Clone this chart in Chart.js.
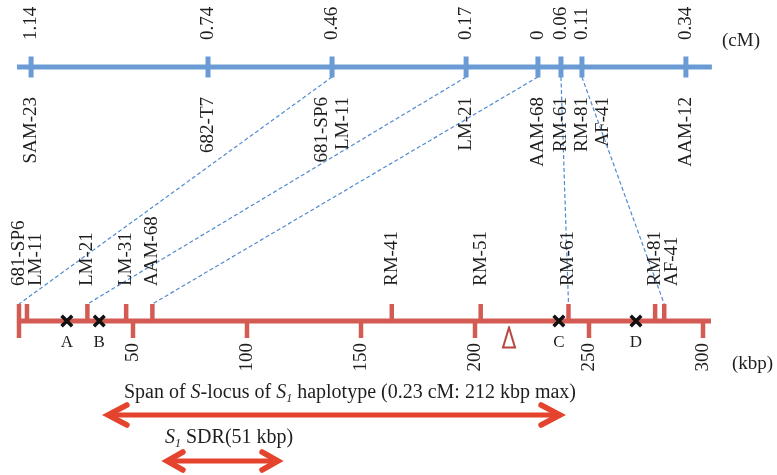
<!DOCTYPE html>
<html>
<head>
  <meta charset="utf-8">
  <title>S-locus genetic / physical map</title>
  <script src="https://cdn.jsdelivr.net/npm/chart.js"></script>
  <style>
    html, body { margin: 0; padding: 0; background: #fff; }
    canvas { display: block; }
  </style>
</head>
<body>
<canvas id="locusChart" width="777" height="475"></canvas>
<script>
  // genetic map (top row), distances in cM
  const cmValues = ['1.14', '0.74', '0.46', '0.17', '0', '0.06', '0.11', '0.34'];
  const cmMarkers = [['SAM-23'], ['682-T7'], ['681-SP6', 'LM-11'], ['LM-21'], ['AAM-68'], ['RM-61'], ['RM-81', 'AF-41'], ['AAM-12']];
  const cmDrawPos = [5.3, 82.9, 137.3, 196.1, 227.6, 237.7, 246.9, 292.5]; // where each marker sits along the drawn bar

  // physical map (bottom row), kbp
  const kbpMarkers = ['681-SP6', 'LM-11', 'LM-21', 'LM-31', 'AAM-68', 'RM-41', 'RM-51', 'RM-61', 'RM-81', 'AF-41'];
  const kbpPos = [0, 3.5, 30, 47, 58.5, 163.5, 202.5, 241, 279, 283];
  const kbpTicks = [0, 50, 100, 150, 200, 250, 300];
  const recombLabels = ['A', 'B', 'C', 'D'];
  const recombPos = [21, 35.2, 236.8, 270.6];
  const trianglePos = [214.9];

  // dashed links genetic marker -> physical marker
  const linkNames = ['681-SP6', 'LM-21', 'AAM-68', 'RM-61', 'AF-41'];

  // arrows under the map
  const spanKbp = [39, 237.3];
  const sdrKbp = [64.9, 113.6];

  // layout (rows in pixels of the 475 px tall canvas)
  const ROW = { cm: 67, kbp: 321, span: 415, sdr: 461 };
  const BLUE = '#6a9bd4';
  const RED = '#d35b53';
  const LINK = '#4f8bd0';
  const ARROW = '#e4432e';
  const INK = '#1e1e1e';
  const SERIF = '"Liberation Serif", "Times New Roman", serif';

  const topIndex = name => cmMarkers.findIndex(m => m.includes(name));

  // hollow triangle used as a point style
  const tri = document.createElement('canvas');
  tri.width = 16; tri.height = 24;
  const tc = tri.getContext('2d');
  tc.strokeStyle = '#b8443d';
  tc.lineWidth = 2;
  tc.beginPath(); tc.moveTo(8, 2); tc.lineTo(14, 22); tc.lineTo(2, 22); tc.closePath(); tc.stroke();

  const linkSets = linkNames.map(n => ({
    type: 'line',
    data: [{ x: cmDrawPos[topIndex(n)], y: ROW.cm + 10 }, { x: kbpPos[kbpMarkers.indexOf(n)], y: ROW.kbp - 17 }],
    borderColor: LINK, borderWidth: 1.2, borderDash: [4, 2.5], pointRadius: 0, order: 5
  }));

  const arrowSets = [spanKbp, sdrKbp].map((s, i) => ({
    type: 'line',
    data: [{ x: s[0], y: i ? ROW.sdr : ROW.span }, { x: s[1], y: i ? ROW.sdr : ROW.span }],
    borderColor: ARROW, borderWidth: 5, pointRadius: 0, order: 4
  }));

  // push labels apart so they don't overlap
  function spreadRight(xs, gap) {
    const out = xs.slice();
    for (let i = 1; i < out.length; i++) {
      if (out[i] < out[i - 1] + gap) out[i] = out[i - 1] + gap;
    }
    return out;
  }

  function vText(ctx, str, px, py, align) {
    ctx.save();
    ctx.translate(px, py);
    ctx.rotate(-Math.PI / 2);
    ctx.textAlign = align;
    ctx.textBaseline = 'middle';
    ctx.fillText(str, 0, 0);
    ctx.restore();
  }

  // runs of [text, italic, subscript]
  function richText(ctx, runs, px, py, size, align) {
    const fontFor = r => (r[1] ? 'italic ' : '') + (r[2] ? Math.round(size * 0.62) : size) + 'px ' + SERIF;
    let total = 0;
    runs.forEach(r => { ctx.font = fontFor(r); total += ctx.measureText(r[0]).width; });
    let cx = align === 'center' ? px - total / 2 : px;
    ctx.textAlign = 'left';
    ctx.textBaseline = 'alphabetic';
    runs.forEach(r => {
      ctx.font = fontFor(r);
      ctx.fillText(r[0], cx, py + (r[2] ? 4 : 0));
      cx += ctx.measureText(r[0]).width;
    });
  }

  function arrowHead(ctx, tx, ty, dir, len, half) {
    ctx.beginPath();
    ctx.moveTo(tx - dir * len, ty - half);
    ctx.lineTo(tx, ty);
    ctx.lineTo(tx - dir * len, ty + half);
    ctx.stroke();
  }

  const annotate = {
    id: 'annotate',
    afterDatasetsDraw(chart) {
      const ctx = chart.ctx;
      const xs = chart.scales.x;
      const ys = chart.scales.y;
      const px = v => xs.getPixelForValue(v);
      const py = v => ys.getPixelForValue(v);
      ctx.save();

      // arrow heads
      ctx.strokeStyle = ARROW;
      ctx.lineWidth = 5.5;
      ctx.lineJoin = 'miter';
      ctx.lineCap = 'round';
      arrowHead(ctx, px(spanKbp[0]), py(ROW.span), -1, 19, 10);
      arrowHead(ctx, px(spanKbp[1]), py(ROW.span), 1, 19, 10);
      arrowHead(ctx, px(sdrKbp[0]), py(ROW.sdr), -1, 16, 9);
      arrowHead(ctx, px(sdrKbp[1]), py(ROW.sdr), 1, 16, 9);

      ctx.fillStyle = INK;
      ctx.font = '19px ' + SERIF;

      // cM values above the top bar
      cmValues.forEach((v, i) => vText(ctx, v, px(cmDrawPos[i]), py(ROW.cm - 27), 'left'));

      // marker names under the top bar
      const topLines = [];
      cmMarkers.forEach((names, i) => {
        names.forEach((n, j) => topLines.push({ n, x: px(cmDrawPos[i]) + (j - (names.length - 1) / 2) * 21 }));
      });
      const topX = spreadRight(topLines.map(l => l.x), 21);
      topLines.forEach((l, i) => vText(ctx, l.n, topX[i], py(ROW.cm + 30), 'right'));

      // marker names above the bottom bar
      const botX = spreadRight(kbpPos.map(px), 17);
      kbpMarkers.forEach((n, i) => vText(ctx, n, botX[i], py(ROW.kbp - 35), 'left'));

      // kbp scale numbers
      kbpTicks.forEach(t => { if (t > 0) vText(ctx, String(t), px(t), py(ROW.kbp + 22), 'right'); });

      // recombination points
      ctx.font = '17px ' + SERIF;
      ctx.textAlign = 'center';
      ctx.textBaseline = 'middle';
      recombLabels.forEach((l, i) => ctx.fillText(l, px(recombPos[i]), py(ROW.kbp + 22)));

      // units
      ctx.font = '19px ' + SERIF;
      ctx.textAlign = 'left';
      ctx.fillText('(cM)', 722, py(ROW.cm - 26));
      ctx.fillText('(kbp)', 732, py(ROW.kbp + 43));

      // arrow captions
      richText(ctx, [['Span of ', 0, 0], ['S', 1, 0], ['-locus of ', 0, 0], ['S', 1, 0], ['1', 1, 1], [' haplotype (0.23 cM: 212 kbp max)', 0, 0]],
        (px(spanKbp[0]) + px(spanKbp[1])) / 2 + 16, py(ROW.span - 17), 20, 'center');
      richText(ctx, [['S', 1, 0], ['1', 1, 1], [' SDR(51 kbp)', 0, 0]], px(sdrKbp[0]) - 2, py(ROW.sdr - 18), 20, 'left');

      ctx.restore();
    }
  };

  new Chart(document.getElementById('locusChart'), {
    type: 'scatter',
    data: {
      datasets: [
        {
          data: recombPos.map(x => ({ x, y: ROW.kbp })),
          pointStyle: 'crossRot', pointRadius: 7.5, borderColor: '#111', backgroundColor: '#111', borderWidth: 3.5, order: 0
        },
        {
          data: trianglePos.map(x => ({ x, y: ROW.kbp + 16.5 })),
          pointStyle: tri, pointRadius: 8, order: 0
        },
        {
          data: cmDrawPos.map(x => ({ x, y: ROW.cm })),
          pointStyle: 'line', rotation: 90, pointRadius: 10.5, borderColor: BLUE, borderWidth: 5, order: 1
        },
        {
          data: kbpPos.map(x => ({ x, y: ROW.kbp - 8.5 })),
          pointStyle: 'line', rotation: 90, pointRadius: 8.5, borderColor: RED, borderWidth: 4.5, order: 1
        },
        {
          data: kbpTicks.map(x => ({ x, y: ROW.kbp + 8.5 })),
          pointStyle: 'line', rotation: 90, pointRadius: 8.5, borderColor: RED, borderWidth: 4.5, order: 1
        },
        {
          type: 'line',
          data: [{ x: -0.9, y: ROW.cm }, { x: 303.9, y: ROW.cm }],
          borderColor: BLUE, borderWidth: 5, pointRadius: 0, order: 3
        },
        {
          type: 'line',
          data: [{ x: -0.9, y: ROW.kbp }, { x: 303.5, y: ROW.kbp }],
          borderColor: RED, borderWidth: 5, pointRadius: 0, order: 3
        },
        ...linkSets,
        ...arrowSets
      ]
    },
    options: {
      responsive: false,
      animation: false,
      layout: { padding: 0, autoPadding: false },
      scales: {
        x: { type: 'linear', display: false, min: -8.333, max: 332.456 },
        y: { type: 'linear', display: false, min: 0, max: 475, reverse: true }
      },
      plugins: {
        legend: { display: false },
        tooltip: { enabled: false }
      }
    },
    plugins: [annotate]
  });
</script>
</body>
</html>
